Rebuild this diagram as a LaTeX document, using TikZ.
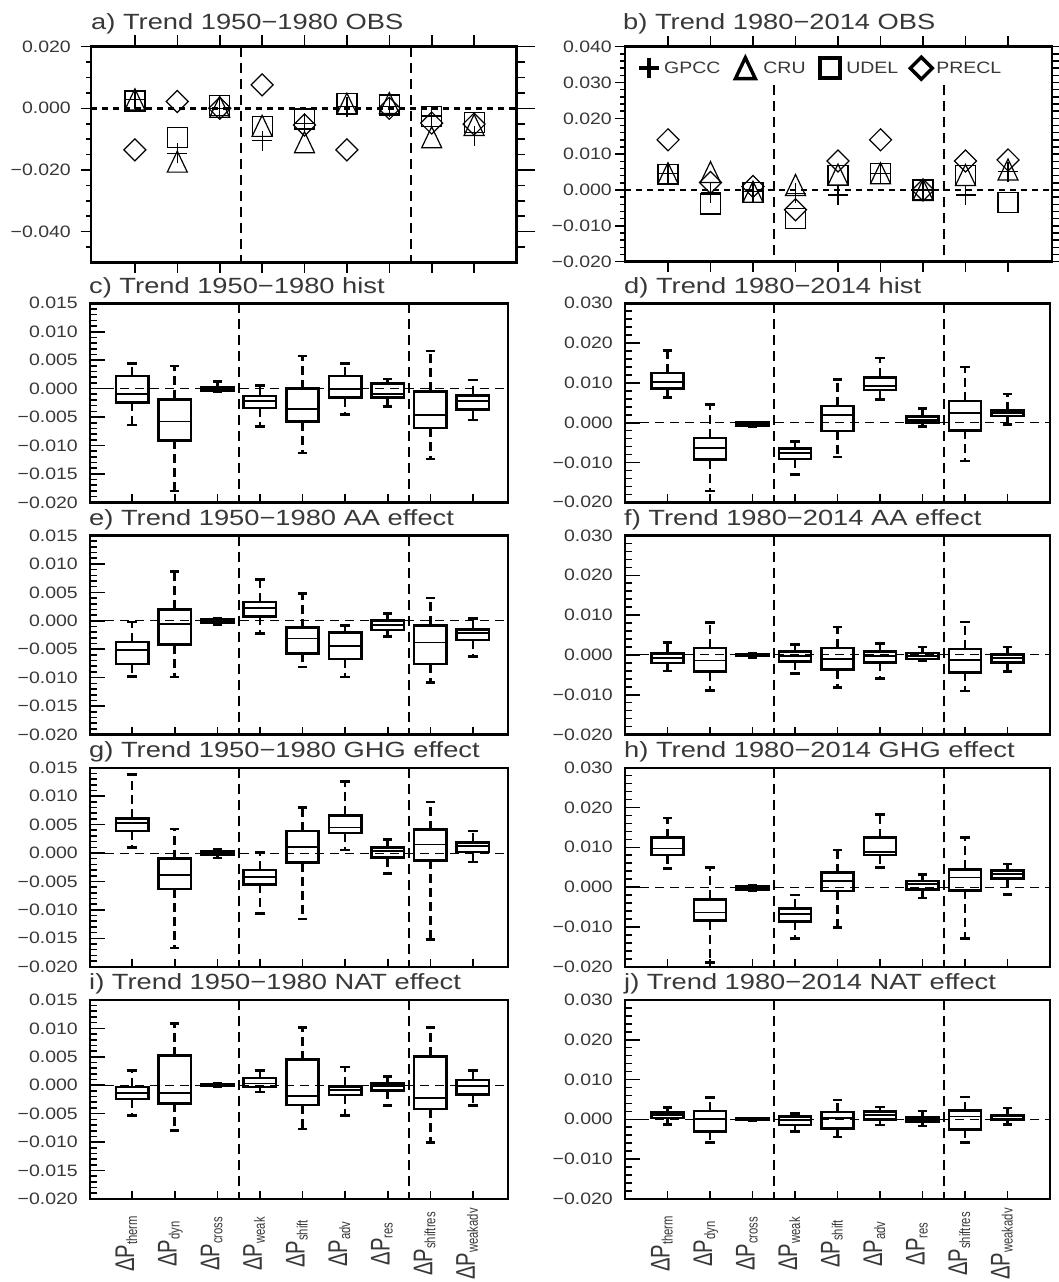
\documentclass[tikz,border=0pt]{standalone}
\usepackage{fontspec}
\usepackage{tikz}
\usetikzlibrary{calc}
\setmainfont{Liberation Sans}
\newfontfamily\titlefont[FakeStretch=1.24]{Liberation Sans}
\newfontfamily\tickfont[FakeStretch=1.18]{Liberation Sans}
\newfontfamily\catfont[FakeStretch=0.75]{Liberation Sans}
\definecolor{idltext}{gray}{0.22}

\tikzstyle{frame}=[line width=2.4pt]
\tikzstyle{tickline}=[line width=1.6pt]
\tikzstyle{boxline}=[line width=2.6pt]
\tikzstyle{medianline}=[line width=1.8pt]
\tikzstyle{whisker}=[line width=2.6pt,dash pattern=on 9pt off 5pt]
\tikzstyle{zeroline}=[line width=1pt,dash pattern=on 9pt off 6pt]
\tikzstyle{obszero}=[line width=2.4pt,dash pattern=on 6pt off 5pt]
\tikzstyle{sepline}=[line width=2pt,dash pattern=on 10pt off 6pt]
\tikzstyle{obsline}=[line width=1.2pt]
\tikzstyle{legline}=[line width=3.4pt]
\tikzstyle{ticklabel}=[anchor=east,inner sep=0pt,text=idltext,
                       font=\tickfont\fontsize{16.5}{18}\selectfont]
\tikzstyle{legtext}=[anchor=west,inner sep=0pt,text=idltext,
                     font=\tickfont\fontsize{16.5}{18}\selectfont]
\tikzstyle{paneltitle}=[anchor=base west,inner sep=0pt,text=idltext,
                        font=\titlefont\fontsize{22}{24}\selectfont]
\tikzstyle{catlabel}=[rotate=90,anchor=base,inner sep=0pt,text=idltext,
                      font=\catfont\fontsize{27}{28}\selectfont]
\newcommand\catsub{\fontsize{15}{16}\selectfont}

% one box: position, low whisker, q1, median, q3, high whisker
\newcommand\whiskerbox[6]{%
  \draw[whisker] (#1,#5) -- (#1,#6);
  \draw[whisker] (#1,#3) -- (#1,#2);
  \draw[boxline] (#1-0.11,#6) -- (#1+0.11,#6);
  \draw[boxline] (#1-0.11,#2) -- (#1+0.11,#2);
  \draw[boxline] (#1-0.38,#3) rectangle (#1+0.38,#5);
  \draw[medianline] (#1-0.38,#4) -- (#1+0.38,#4);
}
% observation symbols
\newcommand\obsplus[3][obsline]{\draw[#1] ($(#2,#3)+(-10pt,0)$) -- ++(20pt,0) ($(#2,#3)+(0,-10pt)$) -- ++(0,20pt);}
\newcommand\obstri[3][obsline]{\draw[#1] ($(#2,#3)+(0,10.5pt)$) -- ++(-10pt,-21pt) -- ++(20pt,0) -- cycle;}
\newcommand\obssq[3][obsline]{\draw[#1] ($(#2,#3)+(-10pt,-10pt)$) rectangle ++(20pt,20pt);}
\newcommand\obsdia[3][obsline]{\draw[#1] ($(#2,#3)+(0,11pt)$) -- ++(-11pt,-11pt) -- ++(11pt,-11pt) -- ++(11pt,11pt) -- cycle;}

% left column model panel: id, top, title, boxes
\newcommand\histpanelL[4]{%
\begin{scope}[shift={(89.5,#2+85.3)},x=42.6pt,y=5.686pt]
  \draw[frame] (0.012,-20) rectangle (9.824,15);
  \foreach \v in {-19,...,14} \draw[tickline] (0.012,\v) -- ++(7pt,0);
  \foreach \v/\t [count=\k] in {-20/−0.020,-15/−0.015,-10/−0.010,-5/−0.005,0/0.000,5/0.005,10/0.010,15/0.015} {
    \draw[tickline] (0.012,\v) -- ++(15pt,0);
    \node[ticklabel] (#1y\k) at ($(0.012,\v)+(-12pt,0)$) {\t};
  }
  \foreach \i in {1,...,9} \draw[tickline] (\i,-20) -- ++(0,8pt);
  \draw[zeroline] (0.012,0) -- (9.824,0);
  \draw[sepline] (3.5,15) -- (3.5,-20);
  \draw[sepline] (7.5,15) -- (7.5,-20);
  \node[paneltitle] (#1title) at ($(0.012,15)+(-1pt,10pt)$) {#3};
  \foreach \i/\lo/\qa/\md/\qb/\hi in {#4} {\whiskerbox{\i}{\lo}{\qa}{\md}{\qb}{\hi}}
\end{scope}}

% right column model panel: id, top, title, boxes
\newcommand\histpanelR[4]{%
\begin{scope}[shift={(625,#2+119.4)},x=42.5pt,y=3.98pt]
  \draw[frame] (0,-20) rectangle (10,30);
  \foreach \v in {-18,-16,...,28} \draw[tickline] (0,\v) -- ++(7pt,0);
  \foreach \v/\t [count=\k] in {-20/−0.020,-10/−0.010,0/0.000,10/0.010,20/0.020,30/0.030} {
    \draw[tickline] (0,\v) -- ++(15pt,0);
    \node[ticklabel] (#1y\k) at ($(0,\v)+(-12pt,0)$) {\t};
  }
  \foreach \i in {1,...,9} \draw[tickline] (\i,-20) -- ++(0,8pt);
  \draw[zeroline] (0,0) -- (10,0);
  \draw[sepline] (3.5,30) -- (3.5,-20);
  \draw[sepline] (7.5,30) -- (7.5,-20);
  \node[paneltitle] (#1title) at ($(0,30)+(-1pt,10pt)$) {#3};
  \foreach \i/\lo/\qa/\md/\qb/\hi in {#4} {\whiskerbox{\i}{\lo}{\qa}{\md}{\qb}{\hi}}
\end{scope}}

\begin{document}
\begin{tikzpicture}[x=1pt,y=-1pt]
  \fill[white] (0,0) rectangle (1059,1282);
  \useasboundingbox (0,0) rectangle (1059,1282);

  % a) observations 1950-1980
  \begin{scope}[shift={(92.5,108.3)},x=42.4pt,y=3.083pt]
    \draw[frame] (-0.035,-50) rectangle (10,20);
    \foreach \v in {-45,-40,...,15} \draw[tickline] (-0.035,\v) -- ++(-5pt,0) (10,\v) -- ++(8pt,0);
    \foreach \v/\t [count=\k] in {-40/−0.040,-20/−0.020,0/0.000,20/0.020} {
      \draw[tickline] (-0.035,\v) -- ++(-10pt,0) (10,\v) -- ++(18pt,0);
      \node[ticklabel] (ay\k) at ($(-0.035,\v)+(-20pt,0)$) {\t};
    }
    \foreach \i in {1,...,9} \draw[tickline] (\i,20) -- ++(0,12pt) (\i,-50) -- ++(0,-11pt);
    \draw[obszero] (-0.035,0) -- (10,0);
    \draw[sepline] (3.5,20) -- (3.5,-50);
    \draw[sepline] (7.5,20) -- (7.5,-50);
    \node[paneltitle] (atitle) at ($(-0.035,20)+(0,17pt)$) {a) Trend 1950−1980 OBS};
    \foreach \i/\pl/\tr/\sq/\di in {1/2.9/2.9/2.4/-13.5, 2/-14.6/-17.3/-9.4/2.2,
        3/0/0.5/0.8/0, 4/-10.5/-5.7/-5.9/7.6, 5/-4.9/-11/-3.5/-5.4,
        6/0.5/1.5/1.5/-13.5, 7/0.5/1.7/1.1/0, 8/-2.5/-9.4/-2.7/-4.8,
        9/-8.9/-5.4/-4.6/-5.1} {
      \obsplus{\i}{\pl} \obstri{\i}{\tr} \obssq{\i}{\sq} \obsdia{\i}{\di}
    }
  \end{scope}

  % b) observations 1980-2014
  \begin{scope}[shift={(625.5,190)},x=42.5pt,y=3.583pt]
    \draw[frame] (-0.012,-20) rectangle (10.035,40);
    \foreach \v in {-18,-16,...,38} \draw[tickline] (-0.012,\v) -- ++(-5pt,0) (10.035,\v) -- ++(8pt,0);
    \foreach \v/\t [count=\k] in {-20/−0.020,-10/−0.010,0/0.000,10/0.010,20/0.020,30/0.030,40/0.040} {
      \draw[tickline] (-0.012,\v) -- ++(-10pt,0) (10.035,\v) -- ++(18pt,0);
      \node[ticklabel] (by\k) at ($(-0.012,\v)+(-13pt,0)$) {\t};
    }
    \foreach \i in {1,...,9} \draw[tickline] (\i,40) -- ++(0,11pt) (\i,-20) -- ++(0,-10pt);
    \draw[obszero] (-0.012,0) -- (10.035,0);
    \draw[sepline] (3.5,29.3) -- (3.5,-20);
    \draw[sepline] (7.5,29.3) -- (7.5,-20);
    \node[paneltitle] (btitle) at ($(-0.012,40)+(-2pt,17pt)$) {b) Trend 1980−2014 OBS};
    % legend
    \obsplus[legline]{0.553}{34}
    \node[legtext] (legGPCC) at (0.906,34) {GPCC};
    \obstri[legline]{2.82}{34}
    \node[legtext] (legCRU) at (3.24,34) {CRU};
    \obssq[legline]{4.81}{34}
    \node[legtext] (legUDEL) at (5.19,34) {UDEL};
    \obsdia[legline]{6.96}{34}
    \node[legtext] (legPRECL) at (7.31,34) {PRECL};
    \foreach \i/\pl/\tr/\sq/\di in {1/4.5/4.7/4.4/14.0, 2/-0.7/5.0/-3.9/2.1,
        3/-0.5/-0.5/-0.7/1.0, 4/-0.9/1.4/-7.9/-5.5, 5/-1.4/4.3/4.0/8.1,
        6/4.7/4.7/4.7/14.0, 7/0/0/0/0, 8/-1.4/4.2/4.1/8.1,
        9/5.1/5.7/-3.5/8.4} {
      \obsplus{\i}{\pl} \obstri{\i}{\tr} \obssq{\i}{\sq} \obsdia{\i}{\di}
    }
  \end{scope}

  % model panels
  \histpanelL{c}{303.3}{c) Trend 1950−1980 hist}{1/-6.4/-2.4/-0.9/2.2/4.4,
    2/-18.0/-9.1/-5.8/-1.9/4.0, 3/-0.6/-0.4/0/0.3/1.2, 4/-6.7/-3.4/-2.2/-1.3/0.5,
    5/-11.3/-5.8/-3.6/0/5.7, 6/-4.6/-1.6/0/2.2/4.4, 7/-3.1/-1.6/-0.9/0.9/1.7,
    8/-12.4/-6.9/-4.6/-0.5/6.6, 9/-5.5/-3.7/-2.2/-1.2/1.5}
  \histpanelR{d}{303.3}{d) Trend 1980−2014 hist}{1/6.4/8.6/10.3/12.5/18.2,
    2/-17.2/-9.3/-6.4/-3.8/4.5, 3/-1.1/-0.8/-0.4/0/0.2, 4/-13.0/-9.1/-7.6/-6.5/-4.7,
    5/-8.6/-2.1/1.9/4.2/10.8, 6/5.9/8.2/9.3/11.4/16.3, 7/-1.0/0/0.6/1.5/3.6,
    8/-9.6/-1.9/2.4/5.5/14.0, 9/-0.4/1.7/2.4/3.0/7.2}
  \histpanelL{e}{535.5}{e) Trend 1950−1980 AA effect}{1/-9.8/-7.6/-5.2/-3.7/-0.2,
    2/-9.9/-4.2/-0.6/2.0/8.7, 3/-0.6/-0.3/0/0.3/0.5, 4/-2.2/0.8/2.3/3.3/7.3,
    5/-8.1/-5.7/-3.1/-1.2/4.8, 6/-9.9/-6.7/-4.4/-2.1/-0.8, 7/-2.8/-1.6/-0.8/0.1/1.3,
    8/-10.8/-7.6/-3.8/-0.8/4.0, 9/-6.3/-3.4/-2.2/-1.5/0.4}
  \histpanelR{f}{535.5}{f) Trend 1980−2014 AA effect}{1/-4.0/-2.0/-0.8/0.4/3.1,
    2/-8.9/-4.2/-1.4/1.7/8.1, 3/-0.6/-0.3/0/0.2/0.3, 4/-4.6/-1.6/-0.3/0.8/2.6,
    5/-8.2/-3.7/-1.0/1.7/7.0, 6/-5.9/-1.9/-0.2/0.8/2.8, 7/-1.4/-1.0/-0.2/0.5/2.0,
    8/-9.1/-4.4/-1.2/1.5/8.3, 9/-4.2/-1.9/-0.8/0.1/2.0}
  \histpanelL{g}{767.7}{g) Trend 1950−1980 GHG effect}{1/1.0/3.9/5.3/6.1/13.8,
    2/-16.7/-6.3/-3.8/-1.0/4.2, 3/-0.9/-0.3/0/0.3/0.6, 4/-10.6/-5.5/-4.2/-3.0/0.1,
    5/-11.6/-1.7/1.0/3.9/8.0, 6/0.5/3.5/4.5/6.6/12.6, 7/-3.6/-0.8/0.3/1.0/2.4,
    8/-15.2/-1.3/1.5/4.1/9.0, 9/-1.6/0.2/1.3/1.9/3.9}
  \histpanelR{h}{767.7}{h) Trend 1980−2014 GHG effect}{1/4.7/8.1/9.7/12.4/17.4,
    2/-19.0/-8.4/-6.4/-3.1/4.9, 3/-1.0/-0.6/-0.2/0.2/0.5, 4/-12.9/-8.6/-6.7/-5.3/-2.0,
    5/-10.1/-1.0/1.5/3.6/9.3, 6/4.9/8.1/8.9/12.4/18.2, 7/-2.7/-0.6/0.7/1.5/3.1,
    8/-12.9/-0.8/2.4/4.5/12.4, 9/-1.9/2.1/3.2/4.2/5.8}
  \histpanelL{i}{999.9}{i) Trend 1950−1980 NAT effect}{1/-5.3/-2.4/-1.3/-0.3/2.6,
    2/-8.0/-3.2/-1.3/5.2/10.9, 3/-0.3/-0.15/0/0.15/0.3, 4/-1.2/-0.3/0.3/1.3/2.6,
    5/-7.7/-3.5/-1.9/4.5/10.2, 6/-5.3/-1.7/-0.9/-0.2/3.2, 7/-3.6/-0.9/-0.1/0.3/1.5,
    8/-10.1/-4.2/-2.2/5.1/10.2, 9/-3.6/-1.6/-0.2/0.9/2.6}
  \histpanelR{j}{999.9}{j) Trend 1980−2014 NAT effect}{1/-1.3/0.3/1.1/1.7/3.0,
    2/-5.8/-3.0/0/2.1/5.5, 3/-0.3/-0.15/0/0.15/0.3, 4/-3.1/-1.4/-0.2/0.7/1.5,
    5/-4.4/-2.3/0.4/1.8/4.9, 6/-1.4/0/1.1/1.9/3.1, 7/-1.7/-0.6/0/0.4/2.1,
    8/-5.9/-2.5/0.7/2.2/5.6, 9/-1.3/0/0.7/1.1/2.8}

  % category labels under the bottom panels
  \foreach \i/\s in {1/therm,2/dyn,3/cross,4/weak,5/shift,6/adv,7/res,8/shiftres,9/weakadv} {
    \node[catlabel] (catL\i) at (91.5+42.6*\i,1244) {ΔP\raisebox{-3pt}{\catsub \s}};
    \node[catlabel] (catR\i) at (627+42.5*\i,1244) {ΔP\raisebox{-3pt}{\catsub \s}};
  }
\end{tikzpicture}
\end{document}
